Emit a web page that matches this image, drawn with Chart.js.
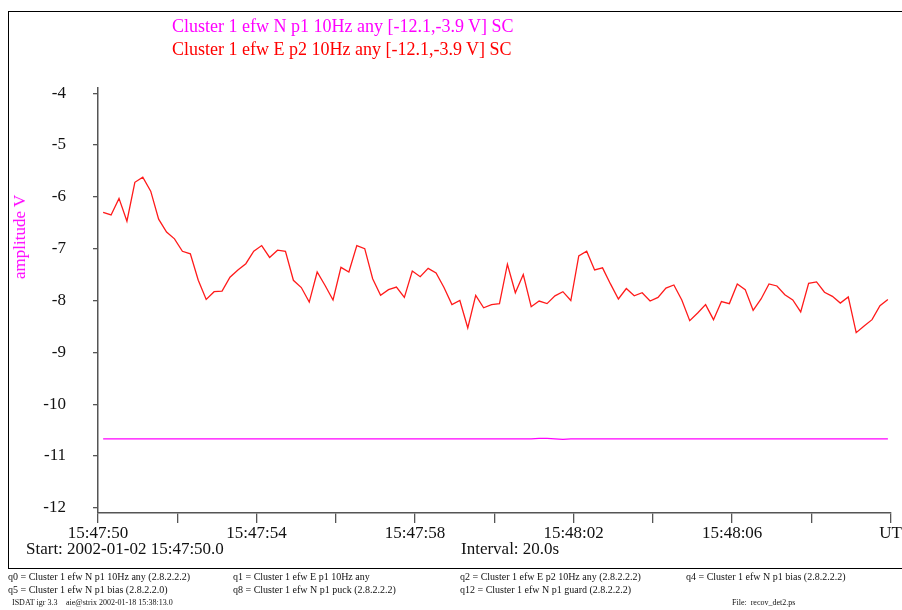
<!DOCTYPE html>
<html>
<head>
<meta charset="utf-8">
<script src="https://cdn.jsdelivr.net/npm/chart.js@4/dist/chart.umd.min.js"></script>
<style>
  body { margin: 0; background: #fff; }
  #wrap { position: relative; width: 902px; height: 610px; overflow: hidden; font-family: "Liberation Serif", "DejaVu Serif", serif; }
  #frame { position: absolute; left: 8px; top: 11px; width: 910px; height: 556px; border: 1.5px solid #000; }
  #plot { position: absolute; left: 0; top: 0; }
  .t { position: absolute; white-space: nowrap; }
  .title { font-size: 18px; left: 172px; }
  .big { font-size: 17px; color: #111; }
  .foot { font-size: 10px; color: #111; }
  .tiny { font-size: 8px; color: #111; }
  #ylab { position: absolute; left: 20px; top: 237px; transform: translate(-50%, -50%) rotate(-90deg); font-size: 17px; color: #ff00ff; white-space: nowrap; }
</style>
</head>
<body>
<div id="wrap">
  <div id="frame"></div>
  <canvas id="plot" width="902" height="610"></canvas>
  <div class="t title" style="top:16px;color:#ff00ff">Cluster 1 efw N p1 10Hz any [-12.1,-3.9 V] SC</div>
  <div class="t title" style="top:39px;color:#ff0000">Cluster 1 efw E p2 10Hz any [-12.1,-3.9 V] SC</div>
  <div id="ylab">amplitude V</div>
  <div class="t big" style="left:26px;top:539px">Start: 2002-01-02 15:47:50.0</div>
  <div class="t big" style="left:461px;top:539px">Interval: 20.0s</div>
  <div class="t foot" style="left:8px;top:571px">q0 = Cluster 1 efw N p1 10Hz any (2.8.2.2.2)</div>
  <div class="t foot" style="left:233px;top:571px">q1 = Cluster 1 efw E p1 10Hz any</div>
  <div class="t foot" style="left:460px;top:571px">q2 = Cluster 1 efw E p2 10Hz any (2.8.2.2.2)</div>
  <div class="t foot" style="left:686px;top:571px">q4 = Cluster 1 efw N p1 bias (2.8.2.2.2)</div>
  <div class="t foot" style="left:8px;top:584px">q5 = Cluster 1 efw N p1 bias (2.8.2.2.0)</div>
  <div class="t foot" style="left:233px;top:584px">q8 = Cluster 1 efw N p1 puck (2.8.2.2.2)</div>
  <div class="t foot" style="left:460px;top:584px">q12 = Cluster 1 efw N p1 guard (2.8.2.2.2)</div>
  <div class="t tiny" style="left:12px;top:598px">ISDAT igr 3.3</div>
  <div class="t tiny" style="left:66px;top:598px">aie@strix 2002-01-18 15:38:13.0</div>
  <div class="t tiny" style="left:732px;top:598px">File:&nbsp; recov_det2.ps</div>
</div>
<script>
// Sampling: 10 Hz data shown every 0.2 s, first sample 0.13 s after start
const startOffset = 0.13;
const sampleStep = 0.2;

// E p2 (red) amplitude, V
const redValues = [
  -6.30, -6.35, -6.03, -6.47, -5.72, -5.62, -5.89, -6.43, -6.68, -6.81,
  -7.05, -7.10, -7.61, -7.98, -7.83, -7.82, -7.55, -7.41, -7.29, -7.05,
  -6.94, -7.17, -7.03, -7.05, -7.61, -7.75, -8.03, -7.45, -7.71, -7.99,
  -7.36, -7.45, -6.94, -7.00, -7.58, -7.90, -7.79, -7.74, -7.94, -7.43,
  -7.54, -7.38, -7.47, -7.75, -8.08, -8.00, -8.53, -7.90, -8.14, -8.08,
  -8.06, -7.30, -7.85, -7.50, -8.12, -8.01, -8.06, -7.91, -7.83, -8.00,
  -7.14, -7.05, -7.41, -7.37, -7.68, -7.97, -7.77, -7.91, -7.85, -8.01,
  -7.94, -7.76, -7.70, -7.99, -8.39, -8.24, -8.08, -8.37, -8.02, -8.06,
  -7.68, -7.79, -8.19, -7.97, -7.68, -7.72, -7.89, -7.99, -8.22, -7.67,
  -7.64, -7.84, -7.92, -8.05, -7.93, -8.62, -8.49, -8.37, -8.10, -7.98
];

// N p1 (magenta) amplitude, V - almost flat
const magentaValues = [
  -10.67, -10.67, -10.67, -10.67, -10.67, -10.67, -10.67, -10.67, -10.67, -10.67,
  -10.67, -10.67, -10.67, -10.67, -10.67, -10.67, -10.67, -10.67, -10.67, -10.67,
  -10.67, -10.67, -10.67, -10.67, -10.67, -10.67, -10.67, -10.67, -10.67, -10.67,
  -10.67, -10.67, -10.67, -10.67, -10.67, -10.67, -10.67, -10.67, -10.67, -10.67,
  -10.67, -10.67, -10.67, -10.67, -10.67, -10.67, -10.67, -10.67, -10.67, -10.67,
  -10.67, -10.67, -10.67, -10.67, -10.67, -10.66, -10.66, -10.67, -10.68, -10.67,
  -10.67, -10.67, -10.67, -10.67, -10.67, -10.67, -10.67, -10.67, -10.67, -10.67,
  -10.67, -10.67, -10.67, -10.67, -10.67, -10.67, -10.67, -10.67, -10.67, -10.67,
  -10.67, -10.67, -10.67, -10.67, -10.67, -10.67, -10.67, -10.67, -10.67, -10.67,
  -10.67, -10.67, -10.67, -10.67, -10.67, -10.67, -10.67, -10.67, -10.67, -10.67
];

// Axis ticks (seconds after 15:47:50 and volts)
const xTicks = [0, 2, 4, 6, 8, 10, 12, 14, 16, 18, 20];
const xTickLabels = {0: '15:47:50', 4: '15:47:54', 8: '15:47:58', 12: '15:48:02', 16: '15:48:06', 20: 'UT'};
const yTicks = [-12, -11, -10, -9, -8, -7, -6, -5, -4];

function toPoints(values) {
  return values.map((v, i) => ({ x: startOffset + i * sampleStep, y: v }));
}

const axisColor = '#555';
const tickFont = { family: '"Liberation Serif", serif', size: 17 };

new Chart(document.getElementById('plot').getContext('2d'), {
  type: 'line',
  data: {
    datasets: [
      {
        data: toPoints(magentaValues),
        borderColor: '#ff00ff',
        borderWidth: 1.3,
        pointRadius: 0,
        tension: 0
      },
      {
        data: toPoints(redValues),
        borderColor: '#ff1a1a',
        borderWidth: 1.3,
        pointRadius: 0,
        tension: 0
      }
    ]
  },
  options: {
    responsive: false,
    animation: false,
    layout: { padding: { top: 88, right: 11, bottom: 0, left: 0 } },
    plugins: { legend: { display: false }, tooltip: { enabled: false } },
    scales: {
      x: {
        type: 'linear',
        min: 0,
        max: 20,
        afterFit: function(scale) { scale.height = 97; },
        afterBuildTicks: function(scale) { scale.ticks = xTicks.map(v => ({ value: v })); },
        border: { display: true, color: axisColor, width: 1.5 },
        grid: { drawOnChartArea: false, drawTicks: true, tickLength: 10, color: axisColor, lineWidth: 1.3 },
        ticks: {
          color: '#111',
          font: tickFont,
          padding: 0,
          maxRotation: 0,
          autoSkip: false,
          callback: function(value) { return xTickLabels[value] || ''; }
        }
      },
      y: {
        type: 'linear',
        min: -12.1,
        max: -3.9,
        afterFit: function(scale) { scale.width = 98; },
        afterBuildTicks: function(scale) { scale.ticks = yTicks.map(v => ({ value: v })); },
        border: { display: true, color: axisColor, width: 1.5 },
        grid: { drawOnChartArea: false, drawTicks: true, tickLength: 5, color: axisColor, lineWidth: 1.3 },
        ticks: {
          color: '#111',
          font: tickFont,
          padding: 27,
          autoSkip: false
        }
      }
    }
  }
});
</script>
</body>
</html>
